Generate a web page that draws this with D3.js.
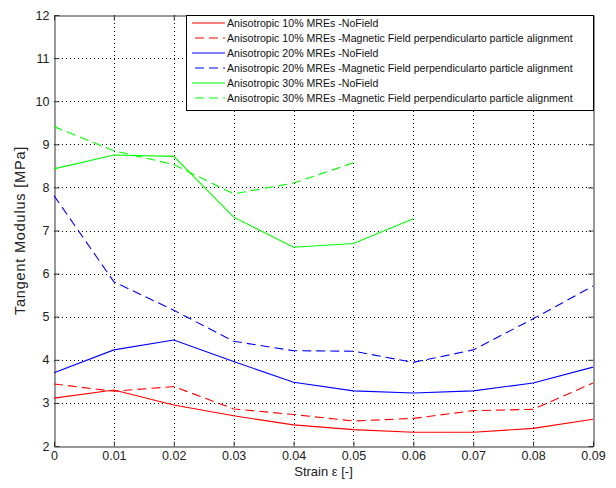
<!DOCTYPE html>
<html>
<head>
<meta charset="utf-8">
<script src="https://cdn.jsdelivr.net/npm/d3@7/dist/d3.min.js"></script>
<style>
  html, body { margin: 0; padding: 0; background: #fff; }
  svg { display: block; font-family: "Liberation Sans", Arial, Helvetica, sans-serif; }
</style>
</head>
<body>
<svg id="chart" width="616" height="488"></svg>
<script>
// Strain values (x) shared by all series
const strain = [0, 0.01, 0.02, 0.03, 0.04, 0.05, 0.06, 0.07, 0.08, 0.09];

// Tangent modulus [MPa] per series
const aniso10NoField = [3.11, 3.30, 2.95, 2.70, 2.49, 2.38, 2.32, 2.32, 2.41, 2.62];
const aniso10Field   = [3.44, 3.27, 3.38, 2.86, 2.73, 2.58, 2.64, 2.82, 2.85, 3.46];
const aniso20NoField = [3.70, 4.23, 4.46, 3.96, 3.48, 3.28, 3.23, 3.28, 3.46, 3.83];
const aniso20Field   = [7.81, 5.81, 5.15, 4.43, 4.21, 4.20, 3.94, 4.23, 4.95, 5.71];
const aniso30NoField = [8.43, 8.75, 8.72, 7.31, 6.61, 6.70, 7.27];
const aniso30Field   = [9.41, 8.85, 8.53, 7.85, 8.10, 8.57];

const seriesNames = [
  "Anisotropic 10% MREs -NoField",
  "Anisotropic 10% MREs -Magnetic Field perpendicularto particle alignment",
  "Anisotropic 20% MREs -NoField",
  "Anisotropic 20% MREs -Magnetic Field perpendicularto particle alignment",
  "Anisotropic 30% MREs -NoField",
  "Anisotropic 30% MREs -Magnetic Field perpendicularto particle alignment"
];

const xTicks = [0, 0.01, 0.02, 0.03, 0.04, 0.05, 0.06, 0.07, 0.08, 0.09];
const xTickLabels = ["0", "0.01", "0.02", "0.03", "0.04", "0.05", "0.06", "0.07", "0.08", "0.09"];
const yTicks = [2, 3, 4, 5, 6, 7, 8, 9, 10, 11, 12];

const series = [
  { name: seriesNames[0], values: aniso10NoField, color: "#ff0000", dashed: false },
  { name: seriesNames[1], values: aniso10Field,   color: "#ff0000", dashed: true },
  { name: seriesNames[2], values: aniso20NoField, color: "#0000ff", dashed: false },
  { name: seriesNames[3], values: aniso20Field,   color: "#0000ff", dashed: true },
  { name: seriesNames[4], values: aniso30NoField, color: "#00ff00", dashed: false },
  { name: seriesNames[5], values: aniso30Field,   color: "#00ff00", dashed: true }
];

const svg = d3.select("#chart");
const plot = { left: 54, right: 593, top: 15, bottom: 446 };

const x = d3.scaleLinear().domain([0, 0.09]).range([plot.left, plot.right]);
const y = d3.scaleLinear().domain([2, 12]).range([plot.bottom, plot.top]);

// Dotted grid
const grid = svg.append("g");
grid.selectAll("line.gx").data(xTicks.slice(1, -1)).join("line")
  .attr("class", "gx")
  .attr("x1", d => Math.round(x(d)) + 0.5).attr("x2", d => Math.round(x(d)) + 0.5)
  .attr("y1", plot.top).attr("y2", plot.bottom)
  .style("stroke", "#000").style("stroke-width", 1).style("stroke-dasharray", "1,3");
grid.selectAll("line.gy").data(yTicks.slice(1, -1)).join("line")
  .attr("class", "gy")
  .attr("y1", d => Math.round(y(d)) + 0.5).attr("y2", d => Math.round(y(d)) + 0.5)
  .attr("x1", plot.left).attr("x2", plot.right)
  .style("stroke", "#000").style("stroke-width", 1).style("stroke-dasharray", "1,3");

// Axes with inward ticks on all four sides
const fmtX = (d, i) => xTickLabels[i];
const axisBottom = d3.axisBottom(x).tickValues(xTicks).tickFormat(fmtX).tickSizeInner(-5).tickSizeOuter(0).tickPadding(5);
const axisTop = d3.axisTop(x).tickValues(xTicks).tickFormat("").tickSizeInner(-5).tickSizeOuter(0);
const axisLeft = d3.axisLeft(y).tickValues(yTicks).tickFormat(d3.format("d")).tickSizeInner(-5).tickSizeOuter(0).tickPadding(5);
const axisRight = d3.axisRight(y).tickValues(yTicks).tickFormat("").tickSizeInner(-5).tickSizeOuter(0);

function styleAxis(g) {
  g.selectAll("path").style("stroke", "#333").style("stroke-width", 1);
  g.selectAll("line").style("stroke", "#333");
  g.selectAll("text").style("fill", "#222").style("font-size", "12.5px")
    .style("font-family", "'Liberation Sans', Arial, sans-serif");
}

// Bottom tick labels sit just under the axis (inward ticks would otherwise pull them up)
svg.append("g").attr("transform", `translate(0,${plot.bottom + 0.5})`).call(axisBottom).call(styleAxis)
  .selectAll(".tick text").attr("y", 5);
svg.append("g").attr("transform", `translate(0,${plot.top + 0.5})`).call(axisTop).call(styleAxis);
svg.append("g").attr("transform", `translate(${plot.left + 0.5},0)`).call(axisLeft).call(styleAxis)
  .selectAll(".tick text").attr("x", -5);
svg.append("g").attr("transform", `translate(${plot.right + 0.5},0)`).call(axisRight).call(styleAxis);

// Series lines
const line = d3.line().x((d, i) => x(strain[i])).y(d => y(d));
svg.append("g").selectAll("path").data(series).join("path")
  .attr("d", s => line(s.values))
  .style("fill", "none")
  .style("stroke", s => s.color)
  .style("stroke-width", 1.1)
  .style("stroke-dasharray", s => s.dashed ? "9,5" : "none");

// Legend
const lg = svg.append("g");
const lgBox = { x: 186, y: 15, w: 407, h: 95 };
lg.append("rect")
  .attr("x", lgBox.x + 0.5).attr("y", lgBox.y + 0.5)
  .attr("width", lgBox.w).attr("height", lgBox.h)
  .style("fill", "#fff").style("stroke", "#000").style("stroke-width", 1);
const rows = lg.selectAll("g.row").data(series).join("g")
  .attr("class", "row")
  .attr("transform", (d, i) => `translate(0,${23 + i * 15})`);
const sample = d3.line();
rows.append("path")
  .attr("d", d => d.dashed ? sample([[195, 0], [225, 0]]) : sample([[192, 0], [225, 0]]))
  .style("fill", "none")
  .style("stroke", d => d.color).style("stroke-width", 1.2)
  .style("stroke-dasharray", d => d.dashed ? "9,5" : "none");
rows.append("text")
  .attr("x", 227).attr("y", 0).attr("dy", "0.35em")
  .style("font-size", "10.6px").style("fill", "#111")
  .text(d => d.name);

// Axis titles
svg.append("text")
  .attr("x", (plot.left + plot.right) / 2).attr("y", 476)
  .attr("text-anchor", "middle").style("font-size", "13px").style("fill", "#222")
  .text("Strain ε [-]");
svg.append("text")
  .attr("transform", `translate(25,${(plot.top + plot.bottom) / 2}) rotate(-90)`)
  .attr("text-anchor", "middle").style("font-size", "14.5px").style("fill", "#222")
  .style("letter-spacing", "0.8px")
  .text("Tangent Modulus [MPa]");
</script>
</body>
</html>
